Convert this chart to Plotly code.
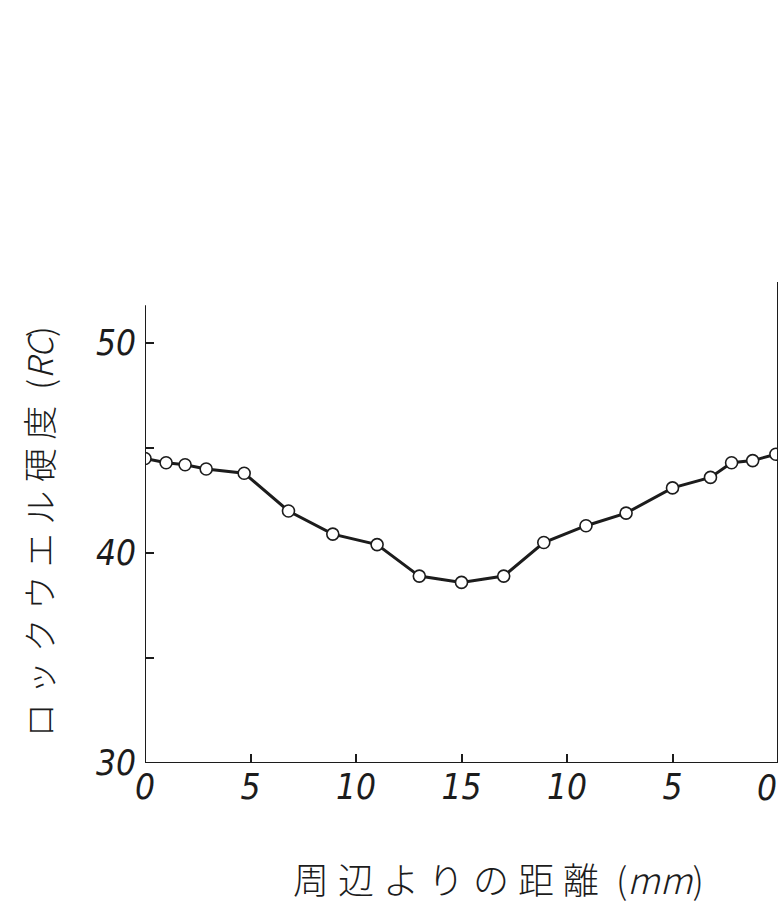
import plotly.graph_objects as go

# Data (distance along section in mm, 0..30; Rockwell C hardness)
position_mm = [0.0, 1.0, 1.9, 2.9, 4.7, 6.8, 8.9, 11.0, 13.0, 15.0, 17.0, 18.9, 20.9, 22.8, 25.0, 26.8, 27.8, 28.8, 29.9]
hardness_rc = [44.5, 44.3, 44.2, 44.0, 43.8, 42.0, 40.9, 40.4, 38.9, 38.6, 38.9, 40.5, 41.3, 41.9, 43.1, 43.6, 44.3, 44.4, 44.7]

x_tick_vals = [0, 5, 10, 15, 20, 25, 30]
x_tick_text = ["0", "5", "10", "15", "10", "5", "0"]
y_tick_vals = [30, 35, 40, 45, 50]
y_tick_text = ["30", "", "40", "", "50"]

SP = "\u2005"
x_title = SP.join("周辺よりの距離") + SP + " (<i>mm</i>)"
y_title = SP.join("ロックウエル硬度") + SP + " (<i>RC</i>)"

INK = "#1c1c1c"
TICK_FONT = dict(family="DejaVu Sans Condensed, DejaVu Sans, Liberation Sans Narrow, sans-serif",
                 size=35, color=INK, style="italic")
CJK = "Noto Sans CJK JP, Noto Sans CJK SC, sans-serif"

fig = go.Figure()
fig.add_trace(go.Scatter(
    x=position_mm, y=hardness_rc, mode="lines+markers",
    line=dict(color=INK, width=3),
    marker=dict(symbol="circle", size=12, color="white", line=dict(color=INK, width=1.6)),
    showlegend=False, hoverinfo="skip",
))

# Axis frame lines (left, bottom, right) in data coordinates
fig.add_shape(type="line", xref="x", yref="y", x0=0, x1=0, y0=30, y1=51.8, line=dict(color=INK, width=2))
fig.add_shape(type="line", xref="x", yref="y", x0=0, x1=30, y0=30, y1=30, line=dict(color=INK, width=2))
fig.add_shape(type="line", xref="x", yref="y", x0=30, x1=30, y0=30, y1=52.9, line=dict(color=INK, width=2))

# last tick label sits at the right page edge; draw it as an annotation nudged inward
fig.update_xaxes(
    range=[0, 30], showgrid=False, zeroline=False, showline=False,
    tickvals=x_tick_vals, ticktext=x_tick_text[:-1] + [""], ticks="inside", ticklen=9,
    tickwidth=1.5, tickcolor=INK, tickfont=TICK_FONT, ticklabeloverflow="allow",
)
fig.add_annotation(text=x_tick_text[-1], xref="x", yref="y", x=x_tick_vals[-1], y=30,
                   xanchor="center", yanchor="top", xshift=-11, yshift=-3,
                   showarrow=False, font=TICK_FONT)
fig.update_yaxes(
    range=[30, 53], showgrid=False, zeroline=False, showline=False,
    tickvals=y_tick_vals, ticktext=y_tick_text, ticks="inside", ticklen=9,
    tickwidth=1.5, tickcolor=INK, tickfont=TICK_FONT, ticklabelstandoff=8,
)

fig.add_annotation(text=y_title, xref="paper", yref="paper", x=-0.169, y=0.478,
                   xanchor="center", yanchor="middle", textangle=-90, showarrow=False,
                   font=dict(family=CJK, size=34, color=INK, weight=300))
fig.add_annotation(text=x_title, xref="paper", yref="paper", x=0.559, y=-0.238,
                   xanchor="center", yanchor="middle", showarrow=False,
                   font=dict(family=CJK, size=36, color=INK, weight=300))

fig.update_layout(
    width=782, height=904,
    margin=dict(l=145, r=4, t=280, b=141, autoexpand=False),
    paper_bgcolor="white", plot_bgcolor="white",
)

fig.write_html("out.html", config={"displayModeBar": False},
               post_script="document.body.style.margin='0';document.body.style.overflow='hidden';")
